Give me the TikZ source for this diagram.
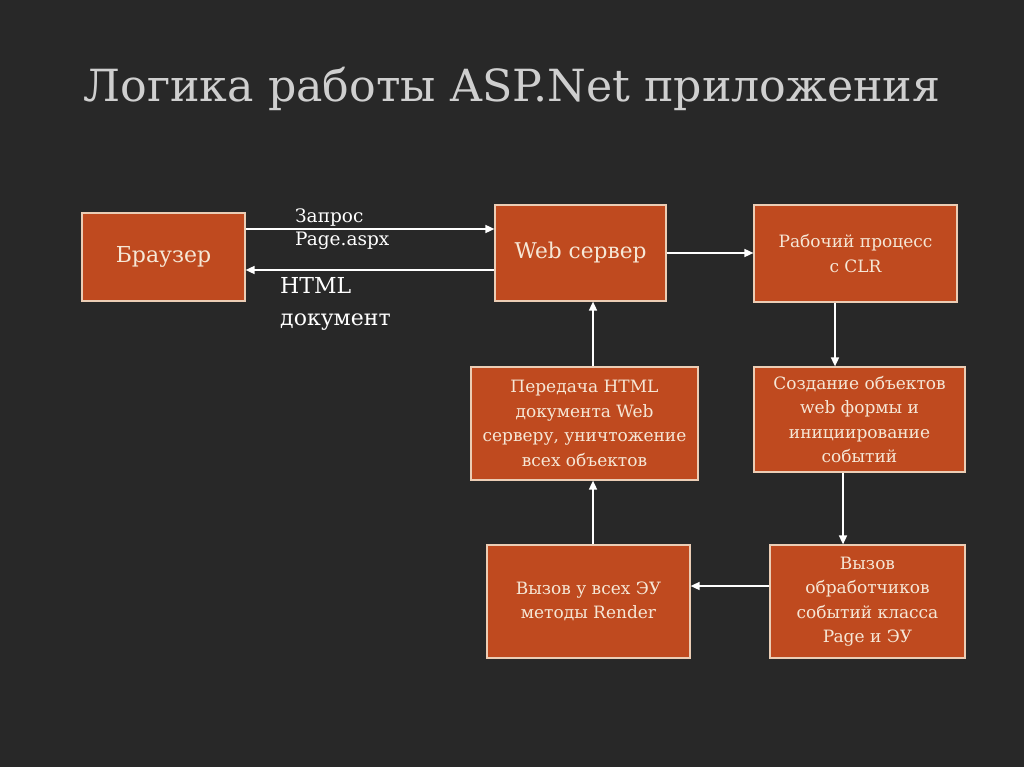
\documentclass[tikz,border=0pt]{standalone}
\usepackage{fontspec}
\setmainfont{DejaVu Serif}
\usepackage{tikz}
\usetikzlibrary{arrows.meta}

\definecolor{slatebg}{HTML}{282828}
\definecolor{boxfill}{HTML}{BF4A1F}
\definecolor{boxline}{HTML}{EBCDB5}
\definecolor{boxtext}{HTML}{F6E7D6}
\definecolor{titlegray}{HTML}{CFCFCF}

\begin{document}
\begin{tikzpicture}[x=1pt, y=-1pt]
    \tikzstyle{block} = [rectangle, draw=boxline, line width=1.2pt, fill=boxfill, text=boxtext, inner sep=0pt, align=center, font=\fontsize{17}{24.5}\selectfont]
    \tikzstyle{link} = [draw=white, line width=1.6pt, -{Triangle[length=9pt, width=8pt]}]
    \tikzstyle{note} = [text=white, align=left, inner sep=0pt]

    % Background
    \fill[slatebg] (0,0) rectangle (1024,767);
    \useasboundingbox (0,0) rectangle (1024,767);

    % Title
    \node[text=titlegray, font=\fontsize{44.3}{50}\selectfont] (title) at (512,89) {Логика работы ASP.Net приложения};

    % Blocks
    \node[block, minimum width=163, minimum height=88, font=\fontsize{22}{30}\selectfont] (browser) at (163.5,257) {Браузер};
    \node[block, minimum width=171, minimum height=96, font=\fontsize{21.7}{30}\selectfont] (web) at (580.5,253) {Web сервер};
    \node[block, minimum width=203, minimum height=97] (worker) at (855.5,253.5) {Рабочий процесс\\с CLR};
    \node[block, minimum width=211, minimum height=105] (create) at (859.5,419.5) {Создание объектов\\web формы и\\инициирование\\событий};
    \node[block, minimum width=227, minimum height=113] (send) at (584.5,423.5) {Передача HTML\\документа Web\\серверу, уничтожение\\всех объектов};
    \node[block, minimum width=203, minimum height=113] (render) at (588.5,601.5) {Вызов у всех ЭУ\\методы Render};
    \node[block, minimum width=195, minimum height=113] (handlers) at (867.5,601.5) {Вызов\\обработчиков\\событий класса\\Page и ЭУ};

    % Labels
    \node[note, anchor=west, font=\fontsize{18.5}{23}\selectfont] (req) at (295,229.5) {Запрос\\Page.aspx};
    \node[note, anchor=west, font=\fontsize{22}{32}\selectfont] (resp) at (280,304) {HTML\\документ};

    % Connectors
    \draw[link] ([yshift=28pt]browser.east) -- ([yshift=28pt]browser.east -| web.west);
    \draw[link] ([yshift=-13pt]browser.east -| web.west) -- ([yshift=-13pt]browser.east);
    \draw[link] (web.east) -- (web.east -| worker.west);
    \draw[link] ([xshift=-20.5pt]worker.south) -- ([xshift=-20.5pt]worker.south |- create.north);
    \draw[link] ([xshift=-16.5pt]create.south) -- ([xshift=-16.5pt]create.south |- handlers.north);
    \draw[link] ([yshift=15.5pt]handlers.west) -- ([yshift=15.5pt]handlers.west -| render.east);
    \draw[link] ([xshift=4.5pt]render.north) -- ([xshift=4.5pt]render.north |- send.south);
    \draw[link] ([xshift=8.5pt]send.north) -- ([xshift=8.5pt]send.north |- web.south);

\end{tikzpicture}
\end{document}
